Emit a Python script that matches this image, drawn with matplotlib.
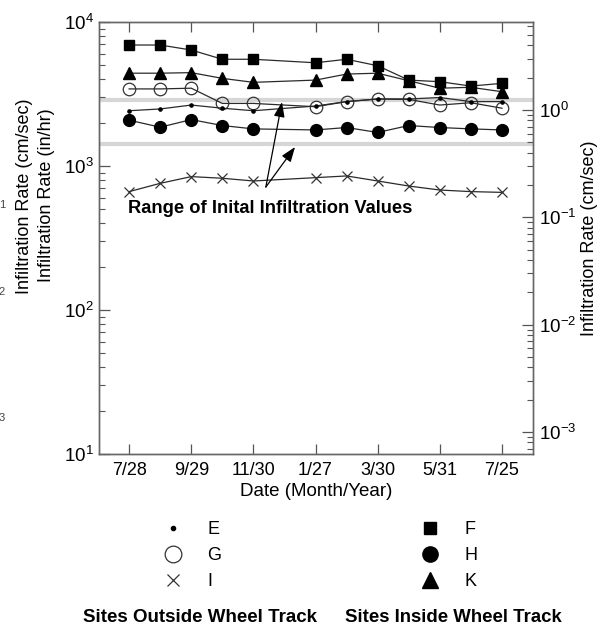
import matplotlib
matplotlib.use("Agg")
import matplotlib.pyplot as plt
from matplotlib.lines import Line2D
from matplotlib.ticker import LogLocator, NullFormatter

plt.rcParams['font.family'] = ['Liberation Sans', 'DejaVu Sans']
plt.rcParams['mathtext.fontset'] = 'custom'
plt.rcParams['mathtext.rm'] = 'Liberation Sans'
plt.rcParams['mathtext.it'] = 'Liberation Sans'
plt.rcParams['mathtext.bf'] = 'Liberation Sans:bold'

# ---- data ----
x_idx = [0, 1, 2, 3, 4, 6, 7, 8, 9, 10, 11, 12]
tick_pos = [0, 2, 4, 6, 8, 10, 12]
tick_labels = ["7/28", "9/29", "11/30", "1/27", "3/30", "5/31", "7/25"]

F = [6920, 6920, 6390, 5510, 5510, 5210, 5510, 4970, 3950, 3850, 3590, 3750]
K = [4410, 4410, 4450, 4060, 3810, 3950, 4350, 4410, 3910, 3470, 3520, 3280]
G = [3430, 3430, 3470, 2720, 2720, 2580, 2800, 2920, 2900, 2650, 2750, 2520]
E = [2420, 2490, 2650, 2520, 2420, 2610, 2800, 2920, 2920, 2990, 2800, 2800]
H = [2080, 1860, 2100, 1910, 1810, 1780, 1850, 1710, 1910, 1850, 1810, 1780]
I = [664, 758, 844, 822, 787, 830, 853, 787, 726, 681, 664, 656]

range_lines = [2870, 1420]

W, Hh = 600, 629
fig = plt.figure(figsize=(6.0, 6.29), dpi=100)
ax = fig.add_axes([99 / W, 1 - 454 / Hh, (533 - 99) / W, (454 - 22) / Hh])

lc = '#2a2a2a'
for v in range_lines:
    ax.axhline(v, color='#d6d6d6', lw=3, zorder=1)

ax.plot(x_idx, I, color=lc, lw=0.9, marker='x', ms=6.5, mew=0.9, mec='#333333', zorder=3)
ax.plot(x_idx, H, color=lc, lw=0.9, marker='o', ms=8.5, mfc='black', mec='black', zorder=3)
ax.plot(x_idx, E, color=lc, lw=0.9, marker='o', ms=2.3, mfc='black', mec='black', zorder=4)
ax.plot(x_idx, G, color=lc, lw=0.9, marker='o', ms=9, mfc='none', mec='#333333', mew=0.9, zorder=3)
ax.plot(x_idx, K, color=lc, lw=0.9, marker='^', ms=9, mfc='black', mec='black', zorder=3)
ax.plot(x_idx, F, color=lc, lw=0.9, marker='s', ms=7, mfc='black', mec='black', zorder=3)

ax.set_yscale('log')
ax.set_ylim(10, 1e4)
ax.set_xlim(-0.97, 13.0)
ax.set_xticks(tick_pos)
ax.set_xticklabels(tick_labels, fontsize=13)
xl = ax.set_xlabel("Date (Month/Year)", fontsize=13, labelpad=3)

ax.yaxis.set_major_locator(LogLocator(base=10, numticks=10))
ax.yaxis.set_minor_locator(LogLocator(base=10, subs=range(2, 10), numticks=20))
ax.yaxis.set_minor_formatter(NullFormatter())
ax.tick_params(axis='y', which='major', direction='in', length=8, width=0.9, labelsize=13.5,
               colors='#555555', labelcolor='black', pad=4)
ax.tick_params(axis='y', which='minor', direction='in', length=4, width=0.8, colors='#555555')
ax.tick_params(axis='x', which='both', direction='in', length=7, width=0.9, top=True,
               colors='#555555', labelcolor='black', pad=6)
ax.tick_params(axis='y', right=False)

for s in ax.spines.values():
    s.set_color('#666666')
    s.set_linewidth(1.0)

ax2 = ax.twinx()
ax2.set_yscale('log')
ax2.set_ylim(10 ** -3.205, 10 ** 0.82)
ax2.yaxis.set_major_locator(LogLocator(base=10, numticks=10))
ax2.yaxis.set_minor_locator(LogLocator(base=10, subs=range(2, 10), numticks=20))
ax2.yaxis.set_minor_formatter(NullFormatter())
ax2.tick_params(axis='y', which='major', direction='in', length=8, width=0.9, labelsize=13.5,
                colors='#555555', labelcolor='black', pad=4)
ax2.tick_params(axis='y', which='minor', direction='in', length=4, width=0.8, colors='#555555')
for s in ax2.spines.values():
    s.set_color('#666666')
    s.set_linewidth(1.0)

# right label
fig.text(590 / W, 1 - 238 / Hh, "Infiltration Rate (cm/sec)", rotation=90, fontsize=13,
         ha='center', va='center')

# annotation
rng = ax.text(-0.03, 505, "Range of Inital Infiltration Values", fontsize=13.5, fontweight='bold',
              ha='left', va='center', zorder=6)
for tip in [(4.92, 2780), (5.34, 1355)]:
    ax.annotate("", xy=tip, xytext=(4.40, 714),
                arrowprops=dict(arrowstyle='-|>,head_length=0.9,head_width=0.33', color='black',
                                lw=0.9, shrinkA=0, shrinkB=0), zorder=6)

# left axis labels
fig.text(25 / W, 1 - 196 / Hh, "Infiltration Rate (cm/sec)", rotation=90, fontsize=13,
         ha='center', va='center')
fig.text(47 / W, 1 - 195 / Hh, "Infiltration Rate (in/hr)", rotation=90, fontsize=13,
         ha='center', va='center')

# clipped fragments at left edge
for lbl, yp in [("1", 205), ("2", 292), ("3", 418)]:
    fig.text(-0.002, 1 - yp / Hh, lbl, fontsize=8, ha='left', va='center', color='#444444')

# legends
h_out = [Line2D([], [], ls='none', marker='o', ms=3, mfc='black', mec='black'),
         Line2D([], [], ls='none', marker='o', ms=12, mfc='none', mec='#333333', mew=0.9),
         Line2D([], [], ls='none', marker='x', ms=9, mew=0.9, mec='#333333')]
h_in = [Line2D([], [], ls='none', marker='s', ms=9, mfc='black', mec='black'),
        Line2D([], [], ls='none', marker='o', ms=11, mfc='black', mec='black'),
        Line2D([], [], ls='none', marker='^', ms=12, mfc='black', mec='black')]
common = dict(loc='upper left', frameon=False, fontsize=13, handlelength=1.0,
              handletextpad=1.4, labelspacing=0.5, borderpad=0)
fig.legend(h_out, ["E", "G", "I"], bbox_to_anchor=(155 / W, 1 - 512 / Hh), **common)
fig.legend(h_in, ["F", "H", "K"], bbox_to_anchor=(412 / W, 1 - 512 / Hh), **common)

t_out = fig.text(200 / W, 1 - 618 / Hh, "Sites Outside Wheel Track", fontsize=13, fontweight='bold',
                 ha='center', va='center')
t_in = fig.text(453 / W, 1 - 618 / Hh, "Sites Inside Wheel Track", fontsize=13, fontweight='bold',
                ha='center', va='center')

# fit a few text widths to the reference widths (pixels)
fig.canvas.draw()
r = fig.canvas.get_renderer()
for t, target in [(rng, 284), (t_out, 234), (t_in, 217), (xl, 152)]:
    w = t.get_window_extent(r).width
    t.set_fontsize(t.get_fontsize() * target / w)

fig.savefig("out.png", dpi=100)
